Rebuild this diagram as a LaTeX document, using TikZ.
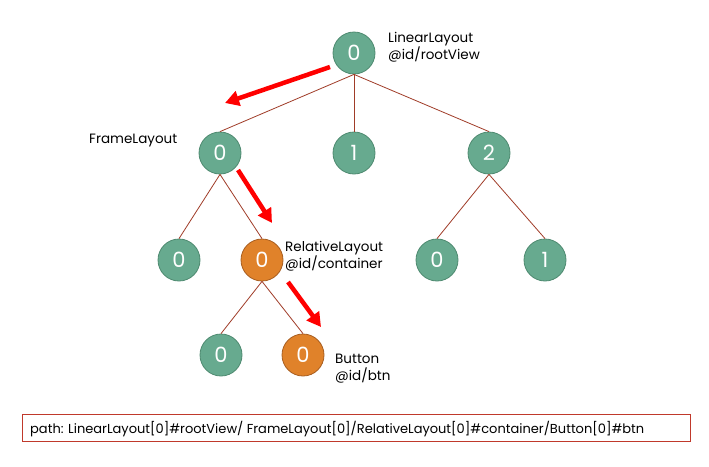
\documentclass[tikz,border=0pt]{standalone}
\usepackage{fontspec}
\setmainfont{Poppins}
\usetikzlibrary{arrows.meta}
\definecolor{ngreen}{RGB}{103,170,143}
\definecolor{ngreenb}{RGB}{78,138,112}
\definecolor{norange}{RGB}{224,130,42}
\definecolor{norangeb}{RGB}{168,94,32}
\definecolor{edgec}{RGB}{160,60,40}
\definecolor{boxc}{RGB}{192,57,43}
\tikzset{
  gnode/.style={circle,minimum size=42pt,inner sep=0pt,fill=ngreen,draw=ngreenb,line width=0.8pt,text=white,font=\fontsize{21}{21}\selectfont},
  onode/.style={gnode,fill=norange,draw=norangeb},
  edge/.style={draw=edgec,line width=0.8pt},
  redarrow/.style={draw=red,line width=4.5pt,-{Triangle[length=14pt,width=15pt]}},
  lbl/.style={anchor=west,align=left,inner sep=0pt,font=\fontsize{13.5}{17}\selectfont},
}
\begin{document}
\begin{tikzpicture}[x=1pt,y=-1pt]
\useasboundingbox[fill=white] (0,0) rectangle (709,466);
\node[gnode] (r) at (354,53) {0};
\node[gnode] (a0) at (220,153) {0};
\node[gnode] (a1) at (354,153) {1};
\node[gnode] (a2) at (489,153) {2};
\node[gnode] (b0) at (179,260) {0};
\node[onode] (b1) at (262,260) {0};
\node[gnode] (c0) at (437,260) {0};
\node[gnode] (c1) at (545,260) {1};
\node[gnode] (d0) at (221,355) {0};
\node[onode] (d1) at (303,355) {0};
\foreach \p/\c in {r/a0,r/a1,r/a2,a0/b0,a0/b1,a2/c0,a2/c1,b1/d0,b1/d1}
  \draw[edge] (\p.south) -- (\c.north);
\node[lbl] (lr) at (388,47) {LinearLayout\\@id/rootView};
\node[lbl] (la) at (89,141) {FrameLayout};
\node[lbl] (lb) at (285,256) {RelativeLayout\\@id/container};
\node[lbl] (ld) at (335,369) {Button\\@id/btn};
\coordinate (s1) at (330,67);
\coordinate (t1) at (225,103);
\coordinate (s2) at (238,170);
\coordinate (t2) at (272,223);
\coordinate (s3) at (288,282);
\coordinate (t3) at (321,327);
\draw[redarrow] (s1) -- (t1);
\draw[redarrow] (s2) -- (t2);
\draw[redarrow] (s3) -- (t3);
\node[draw=boxc,line width=1pt,minimum width=668pt,minimum height=27pt,inner sep=0pt] (pbox) at (356,427.5) {};
\node[anchor=west,inner sep=0pt,font=\fontsize{13}{15}\selectfont] (ptxt) at (30,429) {path: LinearLayout[0]\#rootView/ FrameLayout[0]/RelativeLayout[0]\#container/Button[0]\#btn};
\end{tikzpicture}
\end{document}
